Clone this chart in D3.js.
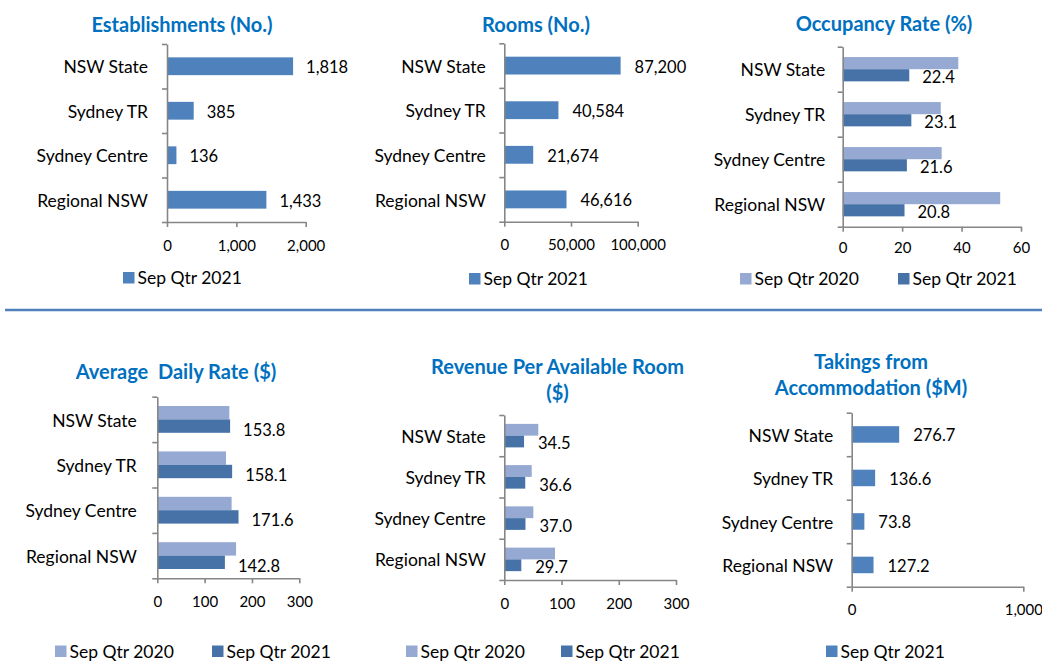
<!DOCTYPE html>
<html><head><meta charset="utf-8">
<script src="https://cdn.jsdelivr.net/npm/d3@7"></script>
<style>
body{margin:0;background:#fff}
svg{display:block}
text{font-family:Lato,"Liberation Sans",sans-serif;fill:#000}
</style>
</head><body>
<svg id="c" width="1042" height="661"></svg>
<script>
// ---------- data ----------
const categories = ["NSW State", "Sydney TR", "Sydney Centre", "Regional NSW"];
const seriesNames = ["Sep Qtr 2020", "Sep Qtr 2021"];

const establishments2021 = [1818, 385, 136, 1433];
const rooms2021 = [87200, 40584, 21674, 46616];
const occupancy2020 = [38.9, 33.0, 33.3, 53.0];
const occupancy2021 = [22.4, 23.1, 21.6, 20.8];
const adr2020 = [152.2, 145.2, 157.0, 166.4];
const adr2021 = [153.8, 158.1, 171.6, 142.8];
const revpar2020 = [59.4, 47.9, 50.7, 88.6];
const revpar2021 = [34.5, 36.6, 37.0, 29.7];
const takings2021 = [276.7, 136.6, 73.8, 127.2];

const establishmentsTicks = [0, 1000, 2000];
const roomsTicks = [0, 50000, 100000];
const occupancyTicks = [0, 20, 40, 60];
const adrTicks = [0, 100, 200, 300];
const revparTicks = [0, 100, 200, 300];
const takingsTicks = [0, 1000];

// ---------- style ----------
const C_SINGLE = "#4F81BD", C_2020 = "#95A9D3", C_2021 = "#4672A8";
const TITLE_COLOR = "#0070C0", AXIS_COLOR = "#868686";
const svg = d3.select("#c");

function panel(o) {
  const g = svg.append("g");
  const x = d3.scaleLinear().domain([0, d3.max(o.ticks)]).range([o.x0, o.x1]);
  const y = d3.scaleBand().domain(categories).range([o.yTop, o.yBot])
    .paddingInner(o.pad).paddingOuter(o.pad / 2);
  const sub = d3.scaleBand().domain(o.series.map(s => s.name)).range([0, y.bandwidth()]);

  // bars
  o.series.forEach(s => {
    g.append("g").selectAll("rect").data(categories).enter().append("rect")
      .attr("x", x(0))
      .attr("y", c => y(c) + sub(s.name))
      .attr("height", sub.bandwidth())
      .attr("width", (c, i) => x(s.values[i]) - x(0))
      .attr("fill", s.color);
  });

  // value labels (last series)
  const ls = o.series[o.series.length - 1];
  g.append("g").selectAll("text").data(categories).enter().append("text")
    .attr("x", (c, i) => x(ls.values[i]) + o.labelGap)
    .attr("y", c => y(c) + sub(ls.name) + sub.bandwidth() / 2 + (o.labelDy || 0) + 1)
    .attr("dy", "0.36em")
    .style("font-size", "16.5px")
    .text((c, i) => o.fmt(ls.values[i]));

  // category axis with boundary ticks
  const yb = d3.scaleLinear().domain([0, categories.length]).range([o.yTop, o.yBot]);
  const ya = g.append("g").attr("transform", `translate(${o.x0},0)`)
    .call(d3.axisLeft(yb).tickValues(d3.range(categories.length + 1)).tickFormat("").tickSize(5).tickSizeOuter(0));
  ya.selectAll("path,line").attr("stroke", AXIS_COLOR).attr("stroke-width", 1.6);

  const yl = g.append("g").attr("transform", `translate(${o.x0},1.5)`)
    .call(d3.axisLeft(y).tickSize(0).tickPadding(o.catPad));
  yl.select(".domain").remove();
  yl.selectAll("text").style("font-size", "17.5px").style("font-family", "Lato").attr("fill", "#000");

  // value axis
  const xa = g.append("g").attr("transform", `translate(0,${o.yBot})`)
    .call(d3.axisBottom(x).tickValues(o.ticks).tickFormat(d3.format(",")).tickSize(5).tickSizeOuter(0).tickPadding(o.tickPad || 13));
  xa.selectAll("path,line").attr("stroke", AXIS_COLOR).attr("stroke-width", 1.6);
  xa.selectAll("text").style("font-size", "15px").style("font-family", "Lato").attr("fill", "#000");

  // title
  g.append("text").attr("text-anchor", "middle")
    .attr("fill", TITLE_COLOR).style("font-weight", "bold").style("font-size", "20px")
    .selectAll("tspan").data(o.title).enter().append("tspan")
    .attr("x", o.titleX).attr("y", (d, i) => o.titleY + i * 26).attr("dy", "0.36em")
    .attr("fill", TITLE_COLOR)
    .text(d => d);

  // legend
  o.series.forEach((s, i) => {
    const lx = o.legendX[i];
    g.append("rect").attr("x", lx).attr("y", o.legendY - 6).attr("width", 11.5).attr("height", 11.5).attr("fill", s.color);
    g.append("text").attr("x", lx + 14.5).attr("y", o.legendY).attr("dy", "0.36em")
      .style("font-size", "17.5px").text(s.name);
  });
}

const fmtInt = d3.format(",");
const fmt1 = d3.format(".1f");

panel({ title: ["Establishments (No.)"], titleX: 182, titleY: 25,
  x0: 167, x1: 305.7, yTop: 44, yBot: 222, pad: 0.6, catPad: 19, labelGap: 13,
  ticks: establishmentsTicks, fmt: fmtInt, legendY: 278, legendX: [123],
  series: [{ name: seriesNames[1], values: establishments2021, color: C_SINGLE }] });

panel({ title: ["Rooms (No.)"], titleX: 536, titleY: 25,
  x0: 504.3, x1: 637.7, yTop: 43.3, yBot: 221.7, pad: 0.6, catPad: 18.5, labelGap: 14,
  ticks: roomsTicks, fmt: fmtInt, legendY: 279, legendX: [469],
  series: [{ name: seriesNames[1], values: rooms2021, color: C_SINGLE }] });

panel({ title: ["Occupancy Rate (%)"], titleX: 884, titleY: 23.5,
  x0: 842.7, x1: 1021, yTop: 46.7, yBot: 226.7, pad: 0.46, catPad: 17.5, labelGap: 13, labelDy: 1,
  tickPad: 11, ticks: occupancyTicks, fmt: fmt1, legendY: 279, legendX: [740, 898],
  series: [{ name: seriesNames[0], values: occupancy2020, color: C_2020 },
           { name: seriesNames[1], values: occupancy2021, color: C_2021 }] });

panel({ title: ["Average\u00a0 Daily Rate ($)"], titleX: 176, titleY: 372,
  x0: 157.3, x1: 299.3, yTop: 396.7, yBot: 578.3, pad: 0.41, catPad: 20.5, labelGap: 13, labelDy: 2.5,
  ticks: adrTicks, fmt: fmt1, legendY: 651.5, legendX: [55, 212],
  series: [{ name: seriesNames[0], values: adr2020, color: C_2020 },
           { name: seriesNames[1], values: adr2021, color: C_2021 }] });

panel({ title: ["Revenue Per Available Room", "($)"], titleX: 557.5, titleY: 366.5,
  x0: 504.3, x1: 676, yTop: 415, yBot: 580, pad: 0.43, catPad: 18.5, labelGap: 14, labelDy: 1,
  ticks: revparTicks, fmt: fmt1, legendY: 651.5, legendX: [406, 561],
  series: [{ name: seriesNames[0], values: revpar2020, color: C_2020 },
           { name: seriesNames[1], values: revpar2021, color: C_2021 }] });

panel({ title: ["Takings from", "Accommodation ($M)"], titleX: 871, titleY: 362,
  x0: 851.7, x1: 1023.3, yTop: 412.7, yBot: 586.7, pad: 0.62, catPad: 18.5, labelGap: 14,
  ticks: takingsTicks, fmt: fmt1, legendY: 651.5, legendX: [826],
  series: [{ name: seriesNames[1], values: takings2021, color: C_SINGLE }] });

// separator
svg.append("line").attr("x1", 5).attr("x2", 1042).attr("y1", 310).attr("y2", 310)
  .attr("stroke", "#4F81BD").attr("stroke-width", 2.5);
</script>
</body></html>
